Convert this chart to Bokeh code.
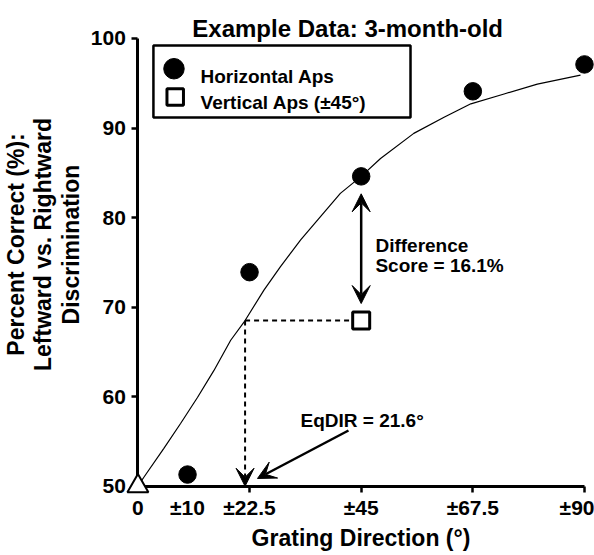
from bokeh.plotting import figure
from bokeh.models import (Range1d, FixedTicker, LinearAxis, Label, Arrow, VeeHead)
from bokeh.embed import file_html
from bokeh.resources import INLINE

# ---------------- data ----------------
horizontal_dir = [10, 22.5, 45, 67.5, 90]
horizontal_pc = [51.3, 73.9, 84.6, 94.1, 97.1]
vertical_dir = [45]
vertical_pc = [68.5]
chance_dir = [0]
chance_pc = [50]
fit_dir = [0, 1.2, 5.2, 8.6, 12.0, 15.3, 18.7, 21.6, 25.4, 28.7, 32.8, 36.8,
           40.8, 45.0, 48.9, 55.6, 61.7, 67.1, 73.8, 80.5, 89.2]
fit_pc = [50.0, 51.0, 54.2, 57.0, 59.9, 62.9, 66.3, 68.5, 71.9, 74.5, 77.5, 80.1,
          82.7, 84.6, 86.6, 89.4, 91.2, 92.7, 93.8, 94.9, 95.9]
eqdir = 21.6
difference = 16.1
y_ticks = [50, 60, 70, 80, 90, 100]
x_ticks_marked = [22.5, 45, 67.5, 90]
x_labels_marked = ["±22.5", "±45", "±67.5", "±90"]
x_ticks_plain = [0, 10]
x_labels_plain = ["0", "±10"]

FONT = "Liberation Sans"

# the frame covers the whole canvas; axes sit at fixed data locations inside it
p = figure(width=594, height=555, output_backend="svg", toolbar_location=None,
           x_range=Range1d(-27.69, 92.02), y_range=Range1d(42.26, 104.24),
           min_border_left=0, min_border_right=0, min_border_top=0,
           min_border_bottom=0, x_axis_type=None, y_axis_type=None)
p.outline_line_color = None
p.background_fill_color = "white"
p.border_fill_color = "white"
p.title.text = ""

# ---------------- axes ----------------
yaxis = LinearAxis(fixed_location=0, bounds=(50, 100), ticker=FixedTicker(ticks=y_ticks),
                   axis_line_width=3, major_tick_line_width=2.5,
                   major_tick_out=6, major_tick_in=0, minor_tick_line_color=None,
                   major_label_standoff=6,
                   major_label_text_font=FONT, major_label_text_font_style="bold",
                   major_label_text_font_size="21px", major_label_text_color="black")
p.add_layout(yaxis, "left")

# label-only axis carrying the y title
ytitle_axis = LinearAxis(fixed_location=0, bounds=(52, 102), ticker=FixedTicker(ticks=[]),
                         axis_line_color=None, major_tick_line_color=None,
                         minor_tick_line_color=None, major_tick_out=0, major_tick_in=0,
                         major_label_standoff=0,
                         axis_label="Percent Correct (%):\nLeftward vs. Rightward\nDiscrimination",
                         axis_label_text_font=FONT, axis_label_text_font_style="bold",
                         axis_label_text_font_size="23px", axis_label_text_color="black",
                         axis_label_text_line_height=1.05, axis_label_standoff=54)
p.add_layout(ytitle_axis, "left")

xaxis = LinearAxis(fixed_location=50, bounds=(0, 90), ticker=FixedTicker(ticks=x_ticks_marked),
                   major_label_overrides={t: l for t, l in zip(x_ticks_marked, x_labels_marked)},
                   axis_line_width=3, major_tick_line_width=2.5,
                   major_tick_out=6, major_tick_in=0, minor_tick_line_color=None,
                   major_label_standoff=4,
                   major_label_text_font=FONT, major_label_text_font_style="bold",
                   major_label_text_font_size="21px", major_label_text_color="black",
                   axis_label="Grating Direction (°)",
                   axis_label_text_font=FONT, axis_label_text_font_style="bold",
                   axis_label_text_font_size="23px", axis_label_text_color="black",
                   axis_label_standoff=2)
p.add_layout(xaxis, "below")

xaxis2 = LinearAxis(fixed_location=50, bounds=(0, 90), ticker=FixedTicker(ticks=x_ticks_plain),
                    major_label_overrides={t: l for t, l in zip(x_ticks_plain, x_labels_plain)},
                    axis_line_color=None, major_tick_line_color=None,
                    major_tick_out=6, major_tick_in=0, minor_tick_line_color=None,
                    major_label_standoff=4,
                    major_label_text_font=FONT, major_label_text_font_style="bold",
                    major_label_text_font_size="21px", major_label_text_color="black")
p.add_layout(xaxis2, "below")

# ---------------- fitted curve and guides ----------------
p.line(fit_dir, fit_pc, line_color="black", line_width=1.2)
p.line([eqdir, vertical_dir[0]], [vertical_pc[0], vertical_pc[0]],
       line_color="black", line_width=2, line_dash="5 4")

p.add_layout(Arrow(x_start=eqdir, y_start=vertical_pc[0], x_end=eqdir, y_end=chance_pc[0],
                   line_color="black", line_width=2, line_dash="5 4",
                   end=VeeHead(size=18, fill_color="black", line_color="black", line_width=1),
                   start=None))

# difference arrow
p.add_layout(Arrow(x_start=vertical_dir[0], y_start=horizontal_pc[2] - 1.95,
                   x_end=vertical_dir[0], y_end=vertical_pc[0] + 1.9,
                   line_color="black", line_width=2.5,
                   start=VeeHead(size=18, fill_color="black", line_color="black", line_width=1),
                   end=VeeHead(size=18, fill_color="black", line_color="black", line_width=1)))

# EqDIR arrow
p.add_layout(Arrow(x_start=42.44, y_start=56.22, x_end=24.1, y_end=50.86,
                   line_color="black", line_width=2.5,
                   end=VeeHead(size=18, fill_color="black", line_color="black", line_width=1)))

# ---------------- data markers ----------------
p.scatter(horizontal_dir, horizontal_pc, marker="circle", size=17.5,
          fill_color="black", line_color="black")
p.scatter(vertical_dir, vertical_pc, marker="square", size=17,
          fill_color="white", line_color="black", line_width=3)
p.scatter(chance_dir, chance_pc, marker="triangle", size=21,
          fill_color="white", line_color="black", line_width=2, level="overlay")

# ---------------- legend (drawn) ----------------
p.quad(left=[3.13], right=[54.94], bottom=[91.18], top=[99.22],
       fill_color="white", line_color="black", line_width=2.5)
p.scatter([7.27], [96.62], marker="circle", size=20.5, fill_color="black", line_color="black")
p.scatter([7.52], [93.47], marker="square", size=16.5, fill_color="white",
          line_color="black", line_width=3)


def lab(x, y, text, size, align="left"):
    p.add_layout(Label(x=x, y=y, text=text, text_font=FONT, text_font_style="bold",
                       text_font_size=size, text_color="black", text_align=align,
                       text_baseline="alphabetic"))


lab(12.62, 95.76, "Horizontal Aps", "19px")
lab(12.62, 92.88, "Vertical Aps (±45°)", "19px")
lab(42.95, 101.08, "Example Data:  3-month-old", "24px", align="center")
lab(47.87, 76.88, "Difference", "19px")
lab(47.87, 74.65, "Score = %.1f%%" % difference, "19px")
lab(32.77, 57.34, "EqDIR = %.1f°" % eqdir, "19px")

open("out.html", "w").write(file_html(p, INLINE))
